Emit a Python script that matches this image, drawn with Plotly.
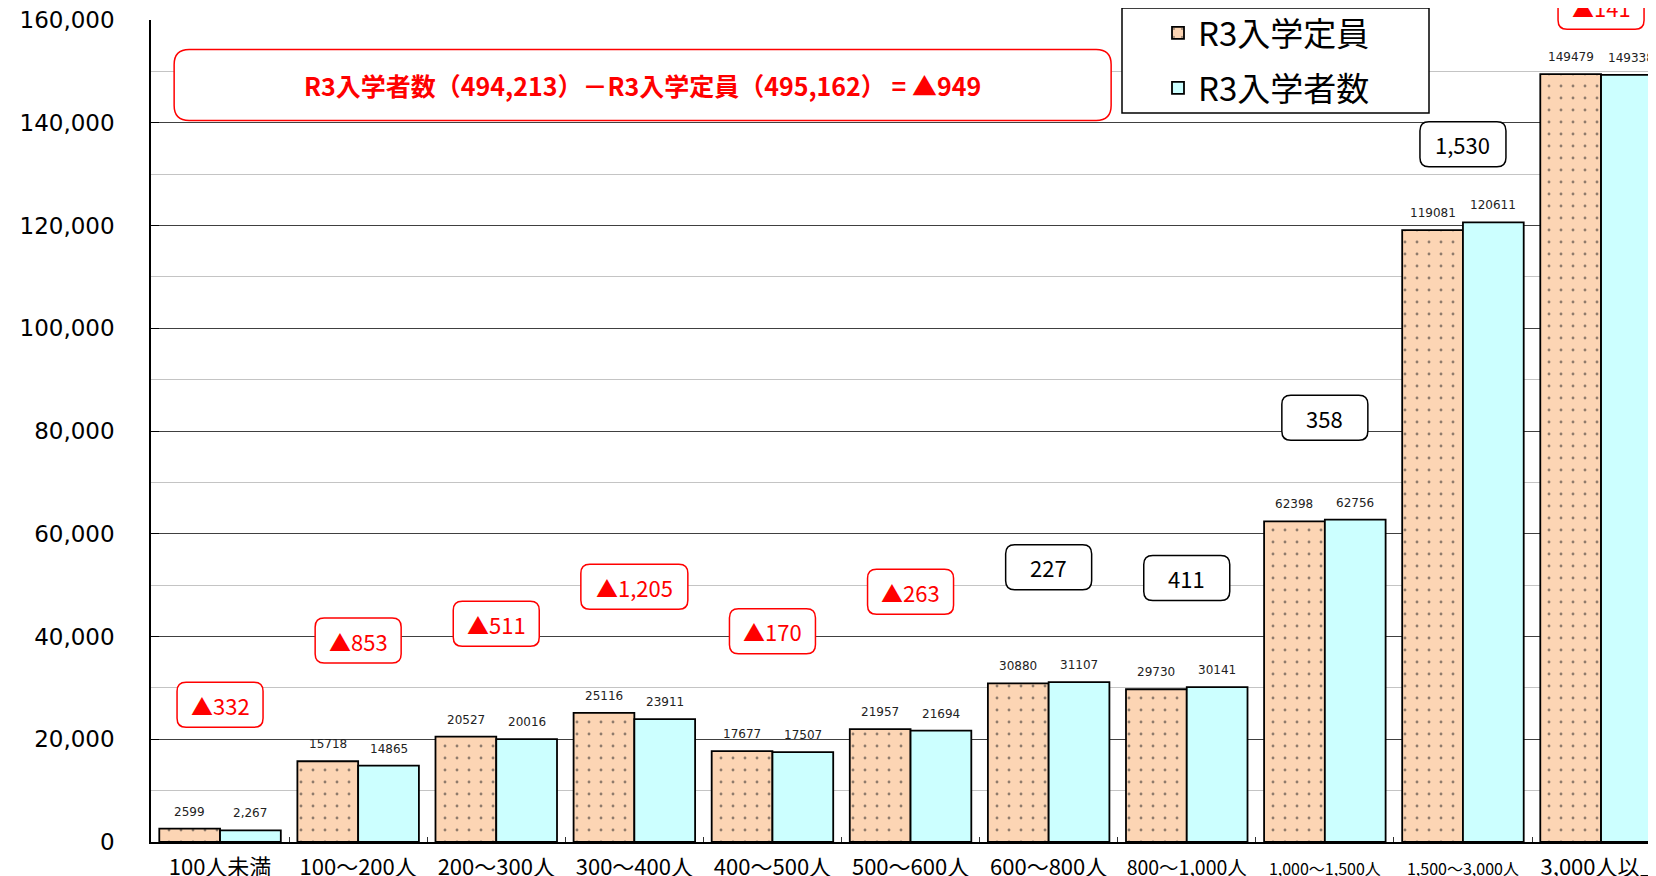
import plotly.graph_objects as go

# ---------------- data ----------------
categories = ["100人未満", "100〜200人", "200〜300人", "300〜400人", "400〜500人",
              "500〜600人", "600〜800人", "800〜1,000人", "1,000〜1,500人",
              "1,500〜3,000人", "3,000人以上"]
capacity = [2599, 15718, 20527, 25116, 17677, 21957, 30880, 29730, 62398, 119081, 149479]
enrolled = [2267, 14865, 20016, 23911, 17507, 21694, 31107, 30141, 62756, 120611, 149338]
series_names = ["R3入学定員", "R3入学者数"]
y_ticks = [0, 20000, 40000, 60000, 80000, 100000, 120000, 140000, 160000]

# ---------------- layout helpers (positions / sizes / styles) ----------------
LABEL_FONT_SIZES = [22, 22, 22, 22, 22, 22, 22, 19.5, 16, 16, 22]
DIFF_BOX_Y = [26700, 39200, 42500, 49700, 41000, 48700, 53500, 51400, 82600, 135800, 162600]
Y_MAX = 160000
OFF = 8                      # page body margin
W, H = 1656 - OFF, 876 - OFF
M_L, M_R, M_T, M_B = 143, 0, 12, 34
PW, PH = W - M_L - M_R, H - M_T - M_B
CAT_PX = 138.1
BARGAP = 0.12
X_RANGE = [-0.5, -0.5 + PW / CAT_PX]
BAR_SHIFT = CAT_PX * (1 - BARGAP) / 4

ORANGE = "#FCD5B4"
CYAN = "#CCFFFF"
RED = "#FF0000"
JP = "Noto Sans CJK JP"


def page_x(px):
    return (px - OFF - M_L) / PW


def page_y(py):
    return (H - M_B - (py - OFF)) / PH


def rounded_rect_path(w, h, r):
    x0, x1, y0, y1 = -w / 2, w / 2, -h / 2, h / 2
    return (f"M{x0 + r},{y0} L{x1 - r},{y0} Q{x1},{y0} {x1},{y0 + r} "
            f"L{x1},{y1 - r} Q{x1},{y1} {x1 - r},{y1} L{x0 + r},{y1} "
            f"Q{x0},{y1} {x0},{y1 - r} L{x0},{y0 + r} Q{x0},{y0} {x0 + r},{y0} Z")


fig = go.Figure()
fig.add_trace(go.Bar(
    x=categories, y=capacity, name=series_names[0], legendgroup="a",
    marker=dict(color=ORANGE, line=dict(color="black", width=1.8),
                pattern=dict(shape=".", fgcolor="#222222", bgcolor=ORANGE,
                             size=12, solidity=0.045)),
))
fig.add_trace(go.Bar(
    x=categories, y=enrolled, name=series_names[1], legendgroup="b",
    marker=dict(color=CYAN, line=dict(color="black", width=1.8)),
))

annotations = []
shapes = []

# value labels above the bars
for i, (c, e) in enumerate(zip(capacity, enrolled)):
    e_txt = f"{e:,}" if i == 0 else f"{e}"
    for val, txt, sh in ((c, f"{c}", -BAR_SHIFT), (e, e_txt, BAR_SHIFT)):
        annotations.append(dict(
            x=i, y=val, xref="x", yref="y", text=txt, showarrow=False,
            xanchor="center", yanchor="bottom", xshift=sh, yshift=8,
            font=dict(family="DejaVu Sans", size=12, color="#222222")))

# difference boxes
for i, (c, e) in enumerate(zip(capacity, enrolled)):
    d = e - c
    txt = f"▲{abs(d):,}" if d < 0 else f"{d:,}"
    col = RED if d < 0 else "black"
    bw = 86 if len(txt) <= 5 else 107
    yp = DIFF_BOX_Y[i] / Y_MAX
    shapes.append(dict(type="path", xref="x", yref="paper", xsizemode="pixel",
                       ysizemode="pixel", xanchor=i, yanchor=yp,
                       path=rounded_rect_path(bw, 45, 9), fillcolor="white",
                       line=dict(color=col, width=1.5), layer="above"))
    annotations.append(dict(x=i, y=yp, xref="x", yref="paper", text=txt,
                            showarrow=False, xanchor="center", yanchor="middle",
                            font=dict(family=JP, size=22, color=col)))

# total summary box
tot_e, tot_c = sum(enrolled), sum(capacity)
tot_d = tot_e - tot_c
tot_txt = (f"<b>R3入学者数（{tot_e:,}）－R3入学定員（{tot_c:,}） = "
           f"{'▲' if tot_d < 0 else ''}{abs(tot_d):,}</b>")
SUM_X, SUM_Y = 3.06, 147350 / Y_MAX
shapes.append(dict(type="path", xref="x", yref="paper", xsizemode="pixel",
                   ysizemode="pixel", xanchor=SUM_X, yanchor=SUM_Y,
                   path=rounded_rect_path(937, 71, 15), fillcolor="white",
                   line=dict(color=RED, width=1.5), layer="above"))
annotations.append(dict(x=SUM_X, y=SUM_Y, xref="x", yref="paper", text=tot_txt,
                        showarrow=False, xanchor="center", yanchor="middle",
                        font=dict(family=JP, size=25, color=RED)))

# legend frame
shapes.append(dict(type="rect", xref="paper", yref="paper",
                   x0=page_x(1122), x1=page_x(1429),
                   y0=page_y(113), y1=page_y(8),
                   fillcolor="white", line=dict(color="black", width=1.5),
                   layer="above"))

ticktext = [f"<span style='font-size:{s}px'>{c}</span>" for c, s in zip(categories, LABEL_FONT_SIZES)]

fig.update_layout(
    width=W, height=H,
    margin=dict(l=M_L, r=M_R, t=M_T, b=M_B, autoexpand=False),
    plot_bgcolor="white", paper_bgcolor="white",
    barmode="group", bargap=BARGAP, bargroupgap=0,
    showlegend=True,
    legend=dict(x=page_x(1158), y=page_y(5), xanchor="left", yanchor="top",
                bgcolor="rgba(0,0,0,0)", borderwidth=0, tracegroupgap=9,
                font=dict(family=JP, size=33, color="black"), itemclick=False),
    xaxis=dict(type="category", categoryorder="array", categoryarray=categories,
               range=X_RANGE, tickmode="array", tickvals=categories, ticktext=ticktext,
               tickson="boundaries", ticks="inside", ticklen=5, tickcolor="#333333",
               showline=True, linecolor="black", linewidth=1.5, showgrid=False,
               tickfont=dict(family=JP, size=22, color="black"), ticklabelstandoff=5,
               ticklabeloverflow="allow"),
    yaxis=dict(range=[0, Y_MAX], tickmode="array", tickvals=y_ticks, tickformat=",",
               showgrid=True, gridcolor="#404040", gridwidth=1,
               minor=dict(dtick=10000, tick0=0, showgrid=True, gridcolor="#C4C4C4", gridwidth=1),
               showline=True, linecolor="black", linewidth=1.5, zeroline=False,
               ticks="inside", ticklen=8, tickcolor="black",
               tickfont=dict(family="DejaVu Sans", size=23, color="black"),
               ticklabelstandoff=30, ticklabeloverflow="allow"),
    annotations=annotations, shapes=shapes,
)

fig.write_html("out.html")
